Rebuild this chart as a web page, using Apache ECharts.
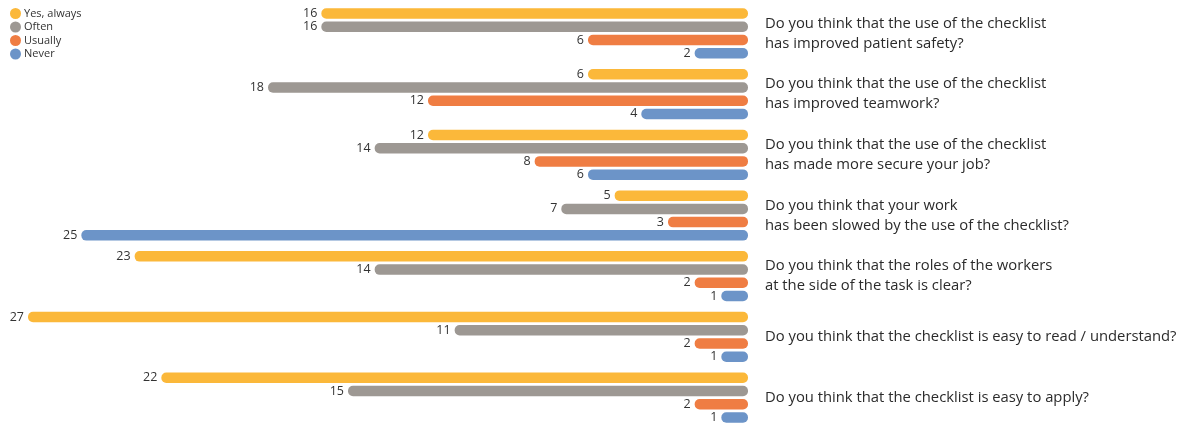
<!DOCTYPE html>
<html>
<head>
<meta charset="utf-8">
<script src="https://cdn.jsdelivr.net/npm/echarts@6/dist/echarts.min.js"></script>
<style>html,body{margin:0;padding:0;background:#fff}#c{width:1196px;height:425px}</style>
</head>
<body>
<div id="c"></div>
<script>
const categories = [
  "Do you think that the use of the checklist\nhas improved patient safety?",
  "Do you think that the use of the checklist\nhas improved teamwork?",
  "Do you think that the use of the checklist\nhas made more secure your job?",
  "Do you think that your work\nhas been slowed by the use of the checklist?",
  "Do you think that the roles of the workers\nat the side of the task is clear?",
  "Do you think that the checklist is easy to read / understand?",
  "Do you think that the checklist is easy to apply?"
];
const seriesNames = ["Yes, always", "Often", "Usually", "Never"];
const yesAlways = [16, 6, 12, 5, 23, 27, 22];
const often = [16, 18, 14, 7, 14, 11, 15];
const usually = [6, 12, 8, 3, 2, 2, 2];
const never = [2, 4, 6, 25, 1, 1, 1];
const colors = ["#FBB83A", "#9D9893", "#EF7D43", "#6C94C8"];

const values = [yesAlways, often, usually, never];
const chart = echarts.init(document.getElementById('c'));
chart.setOption({
  animation: false,
  color: colors,
  textStyle: { fontFamily: "Open Sans" },
  legend: {
    orient: 'vertical', left: 5, top: 3,
    icon: 'circle', itemWidth: 11, itemHeight: 11, itemGap: 2.5,
    textStyle: { fontSize: 11, color: '#333', padding: [0, 0, 0, -2] },
    data: seriesNames
  },
  grid: { left: 28, right: 448, top: 3, height: 425, outerBoundsMode: 'none', containLabel: false },
  xAxis: { type: 'value', min: 0, max: 27, inverse: true, show: false },
  yAxis: {
    type: 'category', data: categories, inverse: true, position: 'right',
    axisLine: { show: false }, axisTick: { show: false }, splitLine: { show: false },
    axisLabel: { align: 'left', margin: 17, fontSize: 14.8, lineHeight: 20, color: '#2b2b2b' }
  },
  series: seriesNames.map((n, i) => ({
    name: n, type: 'bar', data: values[i], barWidth: 10.5, barGap: '26%',
    itemStyle: { borderRadius: 5 },
    label: { show: true, position: 'left', distance: 4, fontSize: 12.5, color: '#333' }
  }))
});
</script>
</body>
</html>
